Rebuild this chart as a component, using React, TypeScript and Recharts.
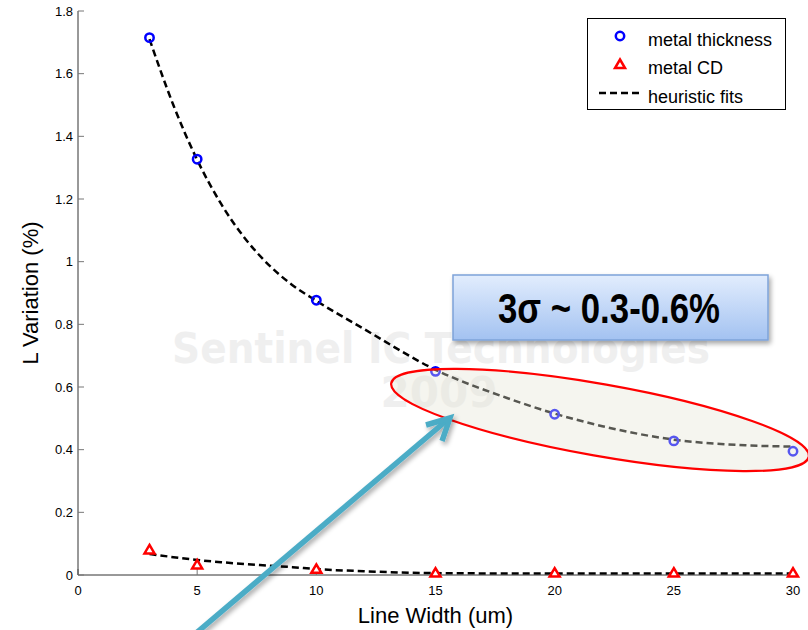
import { ComposedChart, Legend, Line, Scatter, XAxis, YAxis } from 'recharts'

const lineWidths = [3, 5, 10, 15, 20, 25, 30]
const thicknessVariation = [1.715, 1.327, 0.877, 0.65, 0.513, 0.428, 0.395]
const cdVariation = [0.08, 0.032, 0.018, 0.006, 0.006, 0.006, 0.006]

const fitWidths = [3, 4, 5, 6, 7, 8, 9, 10, 12, 15, 18, 20, 22, 25, 28, 30]
const thicknessFit = [1.71, 1.5, 1.325, 1.185, 1.075, 0.99, 0.925, 0.875, 0.785, 0.655, 0.565, 0.515, 0.475, 0.432, 0.414, 0.41]
const cdFit = [0.067, 0.057, 0.048, 0.041, 0.035, 0.03, 0.025, 0.019, 0.012, 0.006, 0.005, 0.005, 0.005, 0.005, 0.005, 0.005]

const xTicks = [0, 5, 10, 15, 20, 25, 30]
const yTicks = [0, 0.2, 0.4, 0.6, 0.8, 1, 1.2, 1.4, 1.6, 1.8]

const thicknessPoints = lineWidths.map((x, i) => ({ x, y: thicknessVariation[i] }))
const cdPoints = lineWidths.map((x, i) => ({ x, y: cdVariation[i] }))
const thicknessFitData = fitWidths.map((x, i) => ({ x, y: thicknessFit[i] }))
const cdFitData = fitWidths.map((x, i) => ({ x, y: cdFit[i] }))

const font = '"Liberation Sans", Arial, sans-serif'

const Circle = (props: any) => (
  <circle cx={props.cx} cy={props.cy} r={4.2} fill="none" stroke="#0000ff" strokeWidth={2.5} />
)

const Triangle = (props: any) => {
  const { cx, cy } = props
  return (
    <polygon
      points={`${cx},${cy - 5} ${cx + 5},${cy + 3.5} ${cx - 5},${cy + 3.5}`}
      fill="#fff"
      stroke="#ff0000"
      strokeWidth={2.5}
    />
  )
}

const Blank = () => <g />

function LegendBox() {
  return (
    <div style={{ width: 197, height: 90, border: '1px solid #000', background: '#fff', position: 'relative' }}>
      <svg width={197} height={90} style={{ position: 'absolute', left: 0, top: 0 }} fontFamily={font} fontSize={18}>
        <circle cx={32} cy={17} r={4.2} fill="none" stroke="#0000ff" strokeWidth={2.5} />
        <polygon points="32,40.5 37,49 27,49" fill="#fff" stroke="#ff0000" strokeWidth={2.5} />
        <line x1={11} x2={51} y1={74} y2={74} stroke="#000" strokeWidth={2.5} strokeDasharray="7 4" />
        <text x={60} y={27} fill="#000">metal thickness</text>
        <text x={60} y={55} fill="#000">metal CD</text>
        <text x={60} y={84} fill="#000">heuristic fits</text>
      </svg>
    </div>
  )
}

export default function App() {
  return (
    <div style={{ position: 'absolute', left: 0, top: 0, width: 808, height: 630, background: '#fff', overflow: 'hidden' }}>
      <svg width={808} height={630} style={{ position: 'absolute', left: 0, top: 0 }}>
        <text x={172} y={363} textLength={538} lengthAdjust="spacingAndGlyphs" fontFamily='"DejaVu Sans", sans-serif' fontWeight="bold" fontSize={42} fill="#efefef">
          Sentinel IC Technologies
        </text>
        <text x={439} y={407} textAnchor="middle" fontFamily='"DejaVu Sans", sans-serif' fontWeight="bold" fontSize={42} fill="#efefef">
          2009
        </text>
      </svg>
      <ComposedChart width={808} height={630} margin={{ top: 11, right: 15, bottom: 0, left: 0 }} style={{ position: 'absolute', left: 0, top: 0 }}>
        <XAxis
          xAxisId="b"
          type="number"
          dataKey="x"
          domain={[0, 30]}
          ticks={xTicks}
          height={55}
          tickSize={-6}
          tickMargin={17}
          stroke="#333"
          tickLine={{ stroke: '#777' }}
          tick={{ fontSize: 13, fill: '#000', fontFamily: font }}
          label={{ value: 'Line Width (um)', position: 'insideBottom', offset: 7, fontSize: 22, fill: '#000', fontFamily: font }}
        />
        <XAxis xAxisId="t" orientation="top" type="number" dataKey="x" domain={[0, 30]} ticks={xTicks} height={0} tickSize={-6} stroke="#333" tickLine={{ stroke: '#777' }} tick={<Blank />} />
        <YAxis
          yAxisId="l"
          type="number"
          dataKey="y"
          domain={[0, 1.8]}
          ticks={yTicks}
          width={78}
          tickSize={-6}
          tickMargin={11}
          stroke="#333"
          tickLine={{ stroke: '#777' }}
          tick={{ fontSize: 13, fill: '#000', fontFamily: font }}
          label={{ value: 'L Variation (%)', angle: -90, position: 'insideLeft', offset: 30, fontSize: 22, fill: '#000', fontFamily: font, style: { textAnchor: 'middle' } }}
        />
        <YAxis yAxisId="r" orientation="right" type="number" dataKey="y" domain={[0, 1.8]} ticks={yTicks} width={0} tickSize={-6} stroke="#999" tickLine={{ stroke: '#999' }} tick={<Blank />} />
        <Legend
          layout="horizontal"
          verticalAlign="middle"
          align="center"
          content={() => <LegendBox />}
          wrapperStyle={{ position: 'absolute', left: 587, top: 18, width: 199, height: 92 }}
        />
        <Line xAxisId="b" yAxisId="l" data={thicknessFitData} dataKey="y" type="monotone" stroke="#000" strokeWidth={2.5} strokeDasharray="7 4" dot={false} legendType="none" isAnimationActive={false} />
        <Line xAxisId="b" yAxisId="l" data={cdFitData} dataKey="y" type="monotone" stroke="#000" strokeWidth={2.5} strokeDasharray="7 4" dot={false} legendType="none" isAnimationActive={false} />
        <Scatter xAxisId="b" yAxisId="l" data={thicknessPoints} dataKey="y" shape={<Circle />} isAnimationActive={false} />
        <Scatter xAxisId="b" yAxisId="l" data={cdPoints} dataKey="y" shape={<Triangle />} isAnimationActive={false} />
      </ComposedChart>
      <svg width={808} height={630} style={{ position: 'absolute', left: 0, top: 0, pointerEvents: 'none' }}>
        <defs>
          <linearGradient id="boxFill" x1="0" y1="0" x2="0" y2="1">
            <stop offset="0" stopColor="#e2edfd" />
            <stop offset="1" stopColor="#a3c2f1" />
          </linearGradient>
          <filter id="shadow" x="-10%" y="-20%" width="130%" height="150%">
            <feGaussianBlur in="SourceAlpha" stdDeviation="2.5" />
            <feOffset dx="2" dy="3" result="b" />
            <feComponentTransfer>
              <feFuncA type="linear" slope="0.35" />
            </feComponentTransfer>
            <feMerge>
              <feMergeNode />
              <feMergeNode in="SourceGraphic" />
            </feMerge>
          </filter>
        </defs>
        <ellipse cx={600} cy={420} rx={212} ry={36} transform="rotate(10 600 420)" fill="#e6e4d6" fillOpacity={0.38} stroke="#ff0000" strokeWidth={2.2} />
        <g filter="url(#shadow)">
          <rect x={453} y={275} width={315} height={65} fill="url(#boxFill)" stroke="#7ea3d9" strokeWidth={1.5} />
        </g>
        <text x={498} y={323} textLength={222} lengthAdjust="spacingAndGlyphs" fontFamily={font} fontWeight="bold" fontSize={43} fill="#000">
          3σ ~ 0.3-0.6%
        </text>
        <g filter="url(#shadow)">
          <line x1={188} y1={640} x2={446} y2={421} stroke="#4bacc6" strokeWidth={5.5} />
          <polyline points="426,425 450,418 442,441" fill="none" stroke="#4bacc6" strokeWidth={5.5} strokeLinejoin="miter" strokeLinecap="butt" />
        </g>
      </svg>
    </div>
  )
}
